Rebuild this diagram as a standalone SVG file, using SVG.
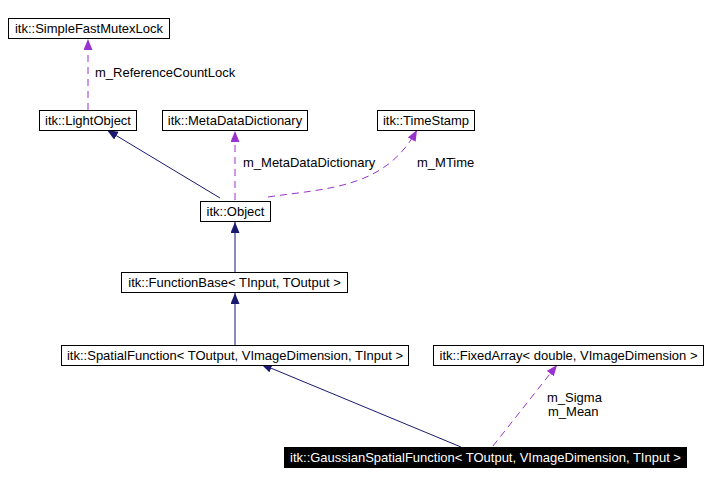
<svg xmlns="http://www.w3.org/2000/svg" width="708" height="484" viewBox="0 0 708 484">
<style>
.box{fill:#ffffff;stroke:#000000;stroke-width:1}
.sel{fill:#000000;stroke:#000000;stroke-width:1}
text{font-family:"Liberation Sans",Arial,sans-serif;font-size:13px;fill:#000000}
.t{text-anchor:middle}
.w{fill:#ffffff}
.inh{fill:none;stroke:#191970;stroke-width:1}
.use{fill:none;stroke:#9a32cd;stroke-width:1;stroke-dasharray:7,5}
</style>
<defs>
<marker id="aN" markerUnits="userSpaceOnUse" markerWidth="12" markerHeight="10" refX="11" refY="4.5" orient="auto">
<path d="M0,0 L11,4.5 L0,9 z" fill="#191970"/>
</marker>
<marker id="aP" markerUnits="userSpaceOnUse" markerWidth="12" markerHeight="10" refX="11" refY="4.5" orient="auto">
<path d="M0,0 L11,4.5 L0,9 z" fill="#9a32cd"/>
</marker>
</defs>
<rect width="708" height="484" fill="#ffffff"/>
<g id="connectors">
<path class="use" d="M88,110 L88,39" marker-end="url(#aP)"/>
<text x="95" y="77">m_ReferenceCountLock</text>
<path class="inh" d="M220,198 L107,130" marker-end="url(#aN)"/>
<path class="use" d="M235,200 L235,131" marker-end="url(#aP)"/>
<text x="243" y="167">m_MetaDataDictionary</text>
<path class="use" d="M268,197 C330,188 385,188 417,130" marker-end="url(#aP)"/>
<text x="417" y="167">m_MTime</text>
<path class="inh" d="M235,272 L235,222" marker-end="url(#aN)"/>
<path class="inh" d="M235,345 L235,293" marker-end="url(#aN)"/>
<path class="inh" d="M461,447 L261,364" marker-end="url(#aN)"/>
<path class="use" d="M493,446 L557,365" marker-end="url(#aP)"/>
<text x="547" y="402">m_Sigma</text>
<text x="548" y="416">m_Mean</text>
</g>
<g id="SimpleFastMutexLock">
<rect class="box" x="8.5" y="18.5" width="161" height="20"/>
<text class="t" x="89" y="33">itk::SimpleFastMutexLock</text>
</g>
<g id="LightObject">
<rect class="box" x="39.5" y="110.5" width="97" height="20"/>
<text class="t" x="88" y="125">itk::LightObject</text>
</g>
<g id="MetaDataDictionary">
<rect class="box" x="162.5" y="110.5" width="145" height="20"/>
<text class="t" x="235" y="125">itk::MetaDataDictionary</text>
</g>
<g id="TimeStamp">
<rect class="box" x="377.5" y="110.5" width="97" height="20"/>
<text class="t" x="426" y="125">itk::TimeStamp</text>
</g>
<g id="Object">
<rect class="box" x="200.5" y="201.5" width="70" height="20"/>
<text class="t" x="235.5" y="216">itk::Object</text>
</g>
<g id="FunctionBase">
<rect class="box" x="121.5" y="272.5" width="226" height="20"/>
<text class="t" x="234.5" y="287">itk::FunctionBase&lt; TInput, TOutput &gt;</text>
</g>
<g id="SpatialFunction">
<rect class="box" x="61.5" y="345.5" width="347" height="20"/>
<text class="t" x="235" y="360">itk::SpatialFunction&lt; TOutput, VImageDimension, TInput &gt;</text>
</g>
<g id="FixedArray">
<rect class="box" x="433.5" y="345.5" width="270" height="20"/>
<text class="t" x="568.5" y="360">itk::FixedArray&lt; double, VImageDimension &gt;</text>
</g>
<g id="GaussianSpatialFunction">
<rect class="sel" x="284.5" y="447.5" width="402" height="20"/>
<text class="t w" x="485.5" y="462">itk::GaussianSpatialFunction&lt; TOutput, VImageDimension, TInput &gt;</text>
</g>
</svg>
